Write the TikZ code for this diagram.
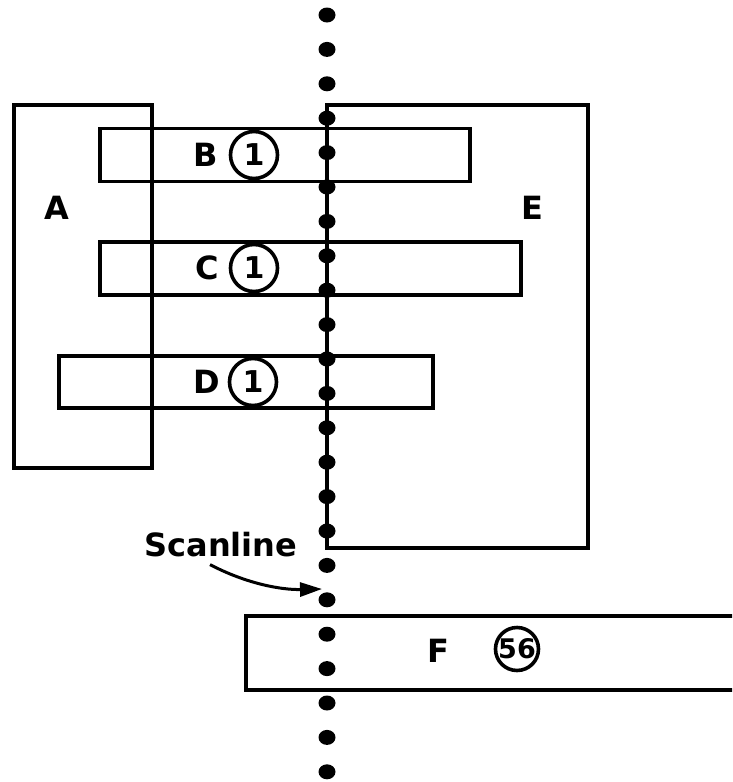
\documentclass[tikz,border=0pt]{standalone}
\usepackage{fontspec}
\setmainfont{DejaVu Sans}
\usetikzlibrary{arrows.meta,shapes.geometric}
\tikzset{
  ln/.style={line width=3.6pt, black},
  box/.style={ln, draw, rectangle, inner sep=0pt, outer sep=0pt},
  lbl/.style={font=\bfseries\fontsize{32}{32}\selectfont, inner sep=0pt},
  num/.style={ln, draw, circle, minimum size=47pt, inner sep=0pt, font=\bfseries\fontsize{30}{30}\selectfont},
  dotc/.style={fill=black, ellipse, minimum width=17pt, minimum height=15pt, inner sep=0pt},
}
\begin{document}
\begin{tikzpicture}[x=1pt, y=-1pt]
\clip (0,0) rectangle (732,782);
% boxes
\node[box, minimum width=138pt, minimum height=363pt] (A) at (83,286.5) {};
\node[box, minimum width=261pt, minimum height=443pt] (E) at (457.5,326.5) {};
\node[box, minimum width=370pt, minimum height=53pt] (B) at (285,155) {};
\node[box, minimum width=421pt, minimum height=53pt] (C) at (310.5,268.5) {};
\node[box, minimum width=374pt, minimum height=52pt] (D) at (246,382) {};
\node[box, minimum width=560pt, minimum height=74pt] (F) at (526,653) {};
% labels
\node[lbl] (la) at (57,208) {A};
\node[lbl] (le) at (532,208) {E};
\node[lbl] (lb) at (206,155) {B};
\node[num] (nb) at (254,155) {1};
\node[lbl] (lc) at (207,268) {C};
\node[num] (nc) at (254,268) {1};
\node[lbl] (ld) at (207,382) {D};
\node[num] (nd) at (253,382) {1};
\node[lbl] (lf) at (438,651) {F};
\node[num, minimum size=43pt, font=\bfseries\fontsize{27}{27}\selectfont] (nf) at (517,649) {56};
% scanline dots
\foreach \k in {0,...,22} {
  \node[dotc] (s\k) at (327,{15+34.4*\k}) {};
}
\node[lbl] (scan) at (221,545) {Scanline};
\coordinate (tip) at (322,589);
\draw[ln, line width=3pt, -{Triangle[length=22pt,width=14pt]}] ([xshift=-11pt,yshift=-7pt]scan.south) .. controls (245,583) and (280,590) .. (tip);
\end{tikzpicture}
\end{document}
